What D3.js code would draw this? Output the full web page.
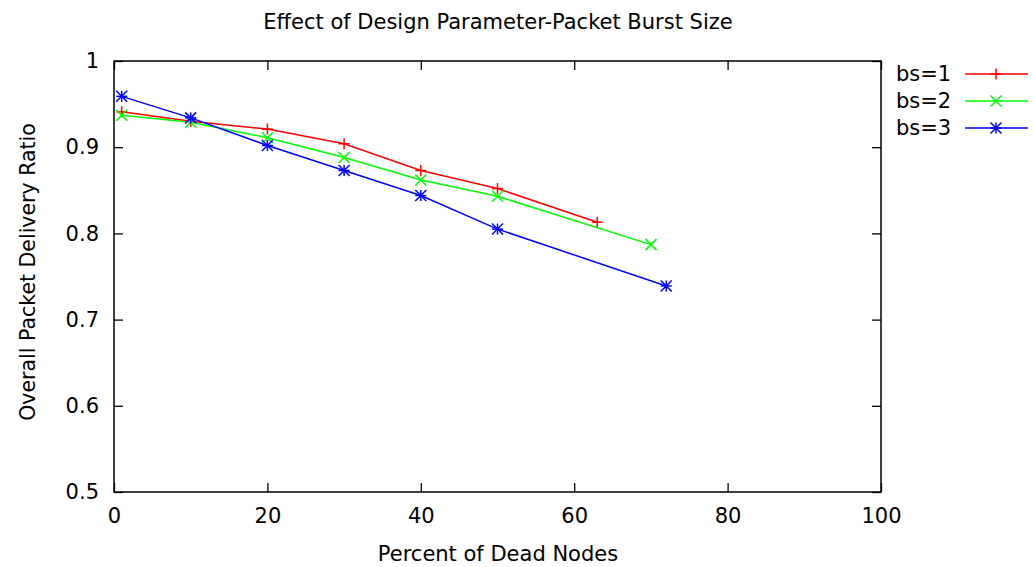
<!DOCTYPE html>
<html><head><meta charset="utf-8">
<script src="https://cdn.jsdelivr.net/npm/d3@7"></script>
<style>body{margin:0;background:#fff}svg{display:block}text{font-family:"DejaVu Sans",sans-serif;fill:#000}</style>
</head><body><svg id="c" width="1033" height="567"></svg>
<script>
const titleText = "Effect of Design Parameter-Packet Burst Size";
const xLabel = "Percent of Dead Nodes";
const yLabel = "Overall Packet Delivery Ratio";
const xTicks = [0, 20, 40, 60, 80, 100];
const yTicks = [0.5, 0.6, 0.7, 0.8, 0.9, 1];
const seriesNames = ["bs=1", "bs=2", "bs=3"];
const seriesColors = ["#ff0000", "#00ff00", "#0000ff"];
const seriesMarkers = ["plus", "cross", "star"];
const bs1X = [1, 10, 20, 30, 40, 50, 63];
const bs1Y = [0.941, 0.930, 0.921, 0.904, 0.873, 0.852, 0.813];
const bs2X = [1, 10, 20, 30, 40, 50, 70];
const bs2Y = [0.937, 0.929, 0.911, 0.888, 0.862, 0.843, 0.787];
const bs3X = [1, 10, 20, 30, 40, 50, 72];
const bs3Y = [0.959, 0.934, 0.902, 0.873, 0.844, 0.805, 0.739];

const series = [
  {name: seriesNames[0], color: seriesColors[0], marker: seriesMarkers[0], pts: bs1X.map((x,i)=>[x, bs1Y[i]])},
  {name: seriesNames[1], color: seriesColors[1], marker: seriesMarkers[1], pts: bs2X.map((x,i)=>[x, bs2Y[i]])},
  {name: seriesNames[2], color: seriesColors[2], marker: seriesMarkers[2], pts: bs3X.map((x,i)=>[x, bs3Y[i]])}
];

const L = 114, R = 881, T = 61, B = 492;
const FS = 21;
const svg = d3.select("#c");
const x = d3.scaleLinear().domain([0, 100]).range([L, R]);
const y = d3.scaleLinear().domain([0.5, 1]).range([B, T]);
const tk = 9;

const gB = svg.append("g").attr("transform", `translate(0,${B})`)
  .call(d3.axisBottom(x).tickValues(xTicks).tickFormat(d3.format("d")).tickSizeInner(-tk).tickSizeOuter(0).tickPadding(18));
const gT = svg.append("g").attr("transform", `translate(0,${T})`)
  .call(d3.axisTop(x).tickValues(xTicks).tickFormat("").tickSizeInner(-tk).tickSizeOuter(0));
const gL = svg.append("g").attr("transform", `translate(${L},0)`)
  .call(d3.axisLeft(y).tickValues(yTicks).tickFormat(d => d === 1 ? "1" : d3.format(".1f")(d)).tickSizeInner(-tk).tickSizeOuter(0).tickPadding(15));
const gR = svg.append("g").attr("transform", `translate(${R},0)`)
  .call(d3.axisRight(y).tickValues(yTicks).tickFormat("").tickSizeInner(-tk).tickSizeOuter(0));
[gB, gT, gL, gR].forEach(g => {
  g.select(".domain").remove();
  g.selectAll(".tick line").attr("stroke", "#000").attr("stroke-width", 1.3);
  g.selectAll("text").attr("font-size", FS).attr("font-family", "DejaVu Sans").attr("fill", "#000");
});
gB.selectAll(".tick text").attr("dy", "0.6em");
svg.append("rect").attr("x", L).attr("y", T).attr("width", R - L).attr("height", B - T)
  .attr("fill", "none").attr("stroke", "#000").attr("stroke-width", 1.5);

svg.append("text").attr("x", 498).attr("y", 29).attr("text-anchor", "middle").attr("font-size", FS).text(titleText);
svg.append("text").attr("x", 498).attr("y", 561).attr("text-anchor", "middle").attr("font-size", FS).text(xLabel);
svg.append("text").attr("transform", `translate(35,272) rotate(-90)`).attr("text-anchor", "middle").attr("font-size", 20.5).text(yLabel);

function drawMarker(g, type, cx, cy, color) {
  const s = 5.5;
  const segs = [];
  if (type === "plus" || type === "star") { segs.push([cx - s, cy, cx + s, cy], [cx, cy - s, cx, cy + s]); }
  if (type === "cross" || type === "star") { segs.push([cx - s, cy - s, cx + s, cy + s], [cx - s, cy + s, cx + s, cy - s]); }
  segs.forEach(p => g.append("line").attr("x1", p[0]).attr("y1", p[1]).attr("x2", p[2]).attr("y2", p[3])
    .attr("stroke", color).attr("stroke-width", 1.5));
}

const line = d3.line().x(d => x(d[0])).y(d => y(d[1]));
series.forEach((s, i) => {
  const g = svg.append("g");
  g.append("path").attr("d", line(s.pts)).attr("fill", "none").attr("stroke", s.color).attr("stroke-width", 1.5);
  s.pts.forEach(p => drawMarker(g, s.marker, x(p[0]), y(p[1]), s.color));
  const ly = 74 + i * 27;
  svg.append("text").attr("x", 896).attr("y", ly + 7).attr("text-anchor", "start").attr("font-size", FS).text(s.name);
  svg.append("line").attr("x1", 965).attr("x2", 1028).attr("y1", ly).attr("y2", ly).attr("stroke", s.color).attr("stroke-width", 1.5);
  drawMarker(svg.append("g"), s.marker, 996, ly, s.color);
});
</script></body></html>
